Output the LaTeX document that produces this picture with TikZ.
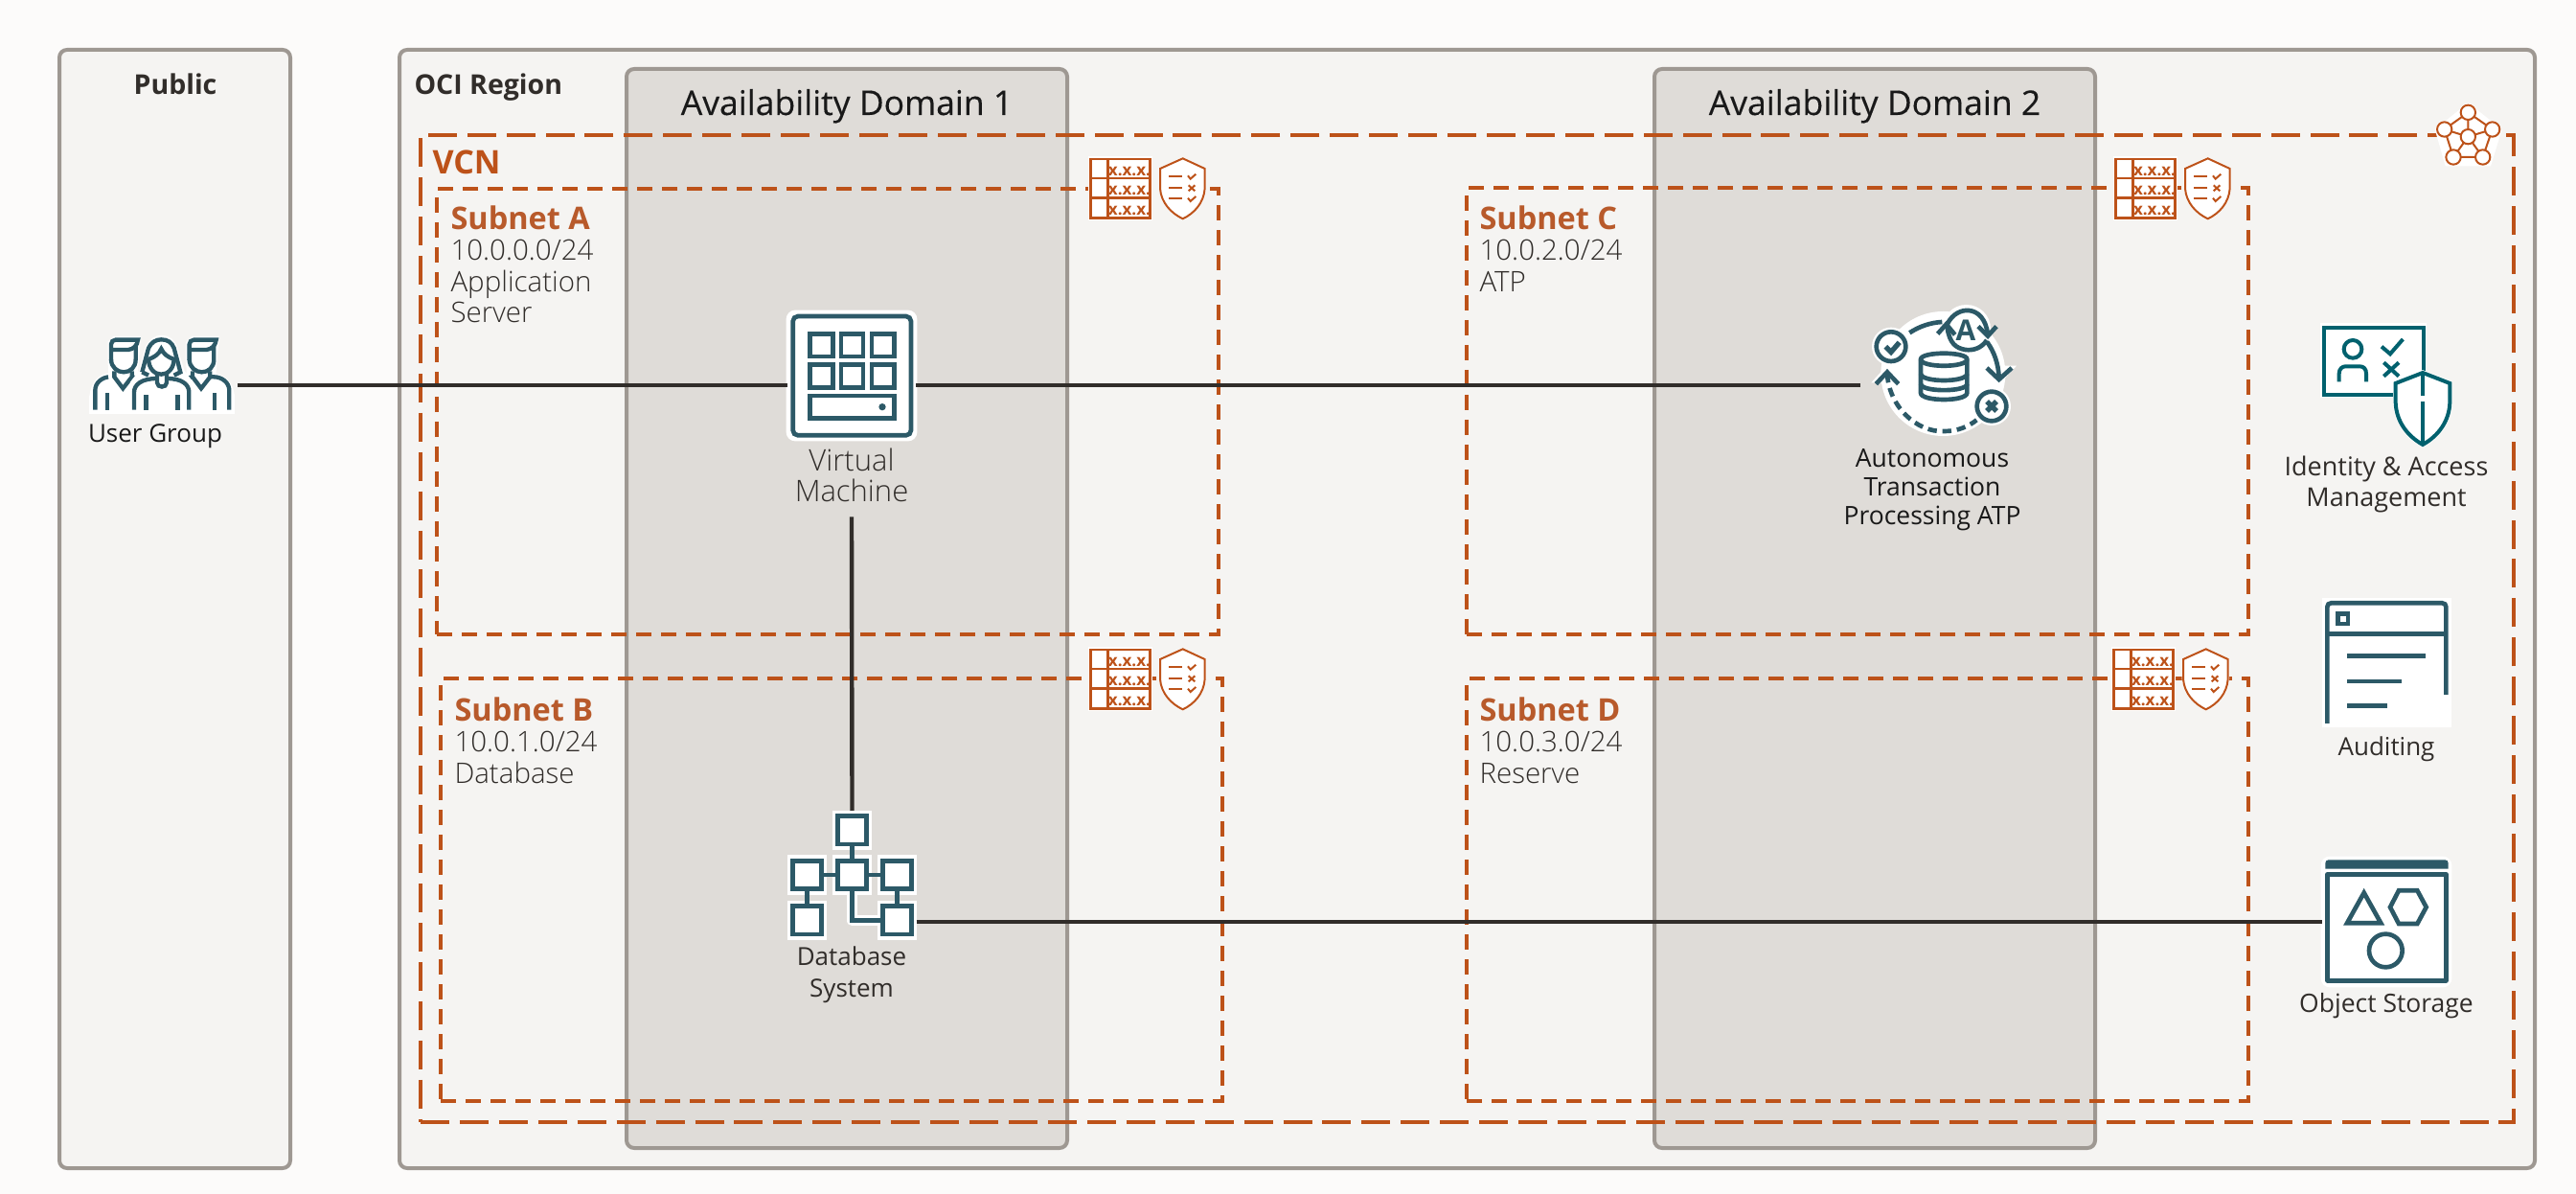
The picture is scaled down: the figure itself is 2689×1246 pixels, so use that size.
\documentclass[tikz,border=0pt]{standalone}
\usepackage{fontspec}
\setmainfont{Open Sans}
\newfontfamily\oslight{Open Sans Light}
\newfontfamily\osmed[FakeBold=0.25]{Open Sans}
\newcommand{\ossemi}{\bfseries}
\definecolor{pagebg}{HTML}{FCFBFA}
\definecolor{panelbg}{HTML}{F5F4F2}
\definecolor{adbg}{HTML}{DFDCD8}
\definecolor{edge}{HTML}{9E9892}
\definecolor{rust}{HTML}{BD5219}
\definecolor{rusttxt}{HTML}{B85A2B}
\definecolor{teal}{HTML}{2C5967}
\definecolor{iamteal}{HTML}{00616E}
\definecolor{ink}{HTML}{312D2A}
\newcommand{\fsz}[2]{\fontsize{\dimexpr#1pt*3/8\relax}{\dimexpr#2pt*3/8\relax}\selectfont}
\tikzset{
  x=0.375pt,y=-0.375pt,
  panel/.style={draw=edge,fill=panelbg,line width=1.5pt,rounded corners=3pt,anchor=north west,outer sep=0pt,inner sep=0pt},
  adbox/.style={panel,fill=adbg},
  vcnbox/.style={draw=rust,line width=1.5pt,anchor=north west,outer sep=0pt,inner sep=0pt,dash pattern=on 11.25pt off 4.1pt},
  subbox/.style={draw=rust,line width=1.5pt,anchor=north west,outer sep=0pt,inner sep=0pt,dash pattern=on 6pt off 3.75pt},
  title/.style={font=\fsz{28}{32},text=ink,inner sep=0pt,anchor=base},
  lab/.style={font=\oslight\fsz{29.5}{33},text=ink,inner sep=0pt,anchor=base west},
  sublab/.style={font=\ossemi\fsz{32.5}{33},text=rusttxt,inner sep=0pt,anchor=base west},
  wire/.style={draw=ink,line width=1.65pt},
  tl/.style={draw=teal,line width=#1*0.125pt,line join=miter},
  tl/.default=14,
  wh/.style={draw=white,line width=#1*0.125pt,line join=round},
  rl/.style={draw=rust,line width=#1*0.125pt},
  rl/.default=8,
  il/.style={draw=iamteal,line width=#1*0.125pt},
  il/.default=12,
  xxx/.style={font=\bfseries\fsz{17}{17},text=rust,inner sep=0pt}
}
\newcommand{\secicon}[3]{%
 \begin{scope}[shift={(#2,#3)},scale=1/3]
  \fill[white] (48,40) rectangle (250,240);
  \draw[rl] (56,48) rectangle (242,232);
  \draw[rl] (110,48) -- (110,232) (56,108) -- (242,108) (56,170) -- (242,170);
  \node[xxx] (#1x1) at (177,86) {x.x.x.};
  \node[xxx] (#1x2) at (177,148) {x.x.x.};
  \node[xxx] (#1x3) at (177,209) {x.x.x.};
  \draw[white,fill=white,line width=1pt] (344,46) -- (413,78) -- (413,140) .. controls (410,185) and (380,218) .. (344,235) .. controls (308,218) and (276,185) .. (273,140) -- (273,78) -- cycle;
  \draw[rl=6] (344,46) -- (413,78) -- (413,140) .. controls (410,185) and (380,218) .. (344,235) .. controls (308,218) and (276,185) .. (273,140) -- (273,78) -- cycle;
  \draw[rl=6] (300,103) -- (343,103) (300,139) -- (343,139) (300,171) -- (343,171);
  \draw[rl=6] (360,100) -- (368,110) -- (385,95) (360,170) -- (368,180) -- (385,165) (362,130) -- (382,148) (382,130) -- (362,148);
 \end{scope}}
\newcommand{\manshape}[1]{%
 \begin{scope}[shift={(#1,0)}]
  \draw[white,fill=white,line width=2.6pt] (168,175) -- (180,163) -- (250,163) -- (245,225) -- (240,278) -- (170,278) -- (168,225) -- cycle;
  \draw[tl=13] (168,228) -- (168,178) .. controls (168,170) and (174,164) .. (182,164) -- (252,164) .. controls (250,182) and (238,193) .. (222,195) -- (168,195);
  \draw[tl=13] (168,225) .. controls (168,250) and (188,265) .. (207,265) .. controls (228,265) and (245,250) .. (245,225) -- (245,182);
  \draw[tl=13] (178,262) -- (178,280) -- (205,316) -- (233,280) -- (233,262);
 \end{scope}}
\begin{document}
\begin{tikzpicture}
\useasboundingbox (0,0) rectangle (2689,1246);
\fill[pagebg] (0,0) rectangle (2689,1246);
% panels
\node[panel,minimum width=241*0.375pt,minimum height=1167*0.375pt] (public) at (62,52) {};
\node[panel,minimum width=2229*0.375pt,minimum height=1167*0.375pt] (region) at (417,52) {};
\node[adbox,minimum width=460*0.375pt,minimum height=1126*0.375pt] (ad1) at (654,72) {};
\node[adbox,minimum width=460*0.375pt,minimum height=1126*0.375pt] (ad2) at (1727,72) {};
\node[vcnbox,minimum width=2185*0.375pt,minimum height=1030*0.375pt] (vcn) at (439,141) {};
\node[subbox,minimum width=816*0.375pt,minimum height=465*0.375pt] (suba) at (456,197) {};
\node[subbox,minimum width=816*0.375pt,minimum height=441*0.375pt] (subb) at (460,708) {};
\node[subbox,minimum width=816*0.375pt,minimum height=466*0.375pt] (subc) at (1531,196) {};
\node[subbox,minimum width=816*0.375pt,minimum height=441*0.375pt] (subd) at (1531,708) {};
% titles
\node[title,font=\bfseries\fsz{28.5}{32}] (tpublic) at (183,98.5) {Public};
\node[title,anchor=base west,font=\bfseries\fsz{28.5}{32}] (tregion) at (432,98.5) {OCI Region};
\node[title,font=\osmed\fsz{35.5}{36},text=black!90] (tad1) at (884,120) {Availability Domain 1};
\node[title,font=\osmed\fsz{35.5}{36},text=black!90] (tad2) at (1957,120) {Availability Domain 2};
\node[sublab,font=\bfseries\fsz{34}{33},text=rust] (tvcn) at (451,182) {VCN};
\node[sublab] (ta1) at (470,239.5) {Subnet A};
\node[lab] (ta2) at (470,272) {10.0.0.0/24};
\node[lab] (ta3) at (470,305) {Application};
\node[lab] (ta4) at (470,337) {Server};
\node[sublab] (tb1) at (474,752.5) {Subnet B};
\node[lab] (tb2) at (474,785) {10.0.1.0/24};
\node[lab] (tb3) at (474,818) {Database};
\node[sublab] (tc1) at (1544,239.5) {Subnet C};
\node[lab] (tc2) at (1544,272) {10.0.2.0/24};
\node[lab] (tc3) at (1544,305) {ATP};
\node[sublab] (td1) at (1544,752.5) {Subnet D};
\node[lab] (td2) at (1544,785) {10.0.3.0/24};
\node[lab] (td3) at (1544,818) {Reserve};
% security icons
\secicon{sa}{1120}{150}
\secicon{sb}{1120}{662}
\secicon{sc}{2190}{150}
\secicon{sd}{2188}{662}
% VCN icon
\begin{scope}[shift={(2500,90)},scale=1/3]
 \fill[white] (229,52) -- (335,135) -- (300,250) -- (158,250) -- (125,135) -- cycle;
 \foreach \p in {(229,82),(155,135),(305,135),(183,222),(275,222)} \fill[white] \p circle[radius=28];
 \draw[rl=6] (229,82) -- (155,135) -- (183,222) -- (275,222) -- (305,135) -- cycle;
 \draw[rl=6] (229,158) -- (229,82) (229,158) -- (155,135) (229,158) -- (305,135) (229,158) -- (183,222) (229,158) -- (275,222);
 \foreach \p in {(229,82),(155,135),(305,135),(183,222),(275,222),(229,158)} \draw[rl=6,fill=white] \p circle[radius=23];
\end{scope}
% User group icon
\begin{scope}[shift={(60,300)},scale=1/3]
 \fill[white] (100,340) rectangle (555,395);
 \fill[white] (100,340) .. controls (105,295) and (130,270) .. (165,268) -- (490,268) .. controls (530,275) and (550,300) .. (555,340) -- cycle;
 \draw[tl=13] (118,383) -- (118,322) .. controls (118,298) and (140,280) .. (165,280) -- (178,280);
 \draw[tl=13] (155,383) -- (155,330);
 \manshape{0}
 \draw[tl=13] (233,280) -- (245,283);
 \manshape{245}
 \draw[tl=13] (478,280) -- (490,280) .. controls (515,280) and (538,298) .. (538,322) -- (538,383);
 \draw[tl=13] (493,383) -- (493,330);
 \draw[tl=13] (423,280) -- (410,283);
 \draw[white,fill=white,line width=2.6pt] (265,265) -- (285,190) .. controls (295,170) and (310,160) .. (325,160) .. controls (345,160) and (358,170) .. (365,190) -- (388,265) -- (415,300) -- (415,383) -- (238,383) -- (238,300) -- cycle;
 \draw[tl=13] (265,265) -- (285,190) .. controls (293,172) and (308,163) .. (325,163) .. controls (345,163) and (358,172) .. (365,190) -- (385,265) -- (365,275);
 \draw[tl=13] (265,265) -- (285,275);
 \draw[tl=13] (285,225) .. controls (305,218) and (318,208) .. (325,192) .. controls (332,208) and (345,218) .. (365,225);
 \draw[tl=13] (285,222) .. controls (285,255) and (305,272) .. (325,272) .. controls (345,272) and (365,255) .. (365,222);
 \draw[tl=13] (312,268) -- (312,298) .. controls (312,315) and (342,315) .. (342,298) -- (342,268);
 \draw[tl=13] (240,383) -- (240,328) .. controls (240,305) and (262,285) .. (312,285);
 \draw[tl=13] (342,285) .. controls (392,285) and (412,305) .. (412,328) -- (412,383);
 \draw[tl=13] (277,383) -- (277,335);
 \draw[tl=13] (376,383) -- (376,335);
\end{scope}
\node[minimum width=154*0.375pt,minimum height=60*0.375pt,inner sep=0pt,outer sep=0pt] (users) at (171,402) {};
\node[title,font=\fsz{26}{28},text=black!90] (tusers) at (162,461.5) {User Group};
% VM icon
\node[draw=white,fill=white,line width=1pt,rounded corners=3pt,minimum width=134*0.375pt,minimum height=134*0.375pt,inner sep=0pt,outer sep=0pt] (vm) at (889,392) {};
\begin{scope}[shift={(780,300)},scale=1/3]
 \draw[tl,rounded corners=2pt] (143,90) rectangle (513,463);
 \foreach \a/\b in {197/268,294/363,390/461} {
   \draw[tl] (\a,145) rectangle (\b,216);
   \draw[tl] (\a,242) rectangle (\b,313);
 }
 \draw[tl] (197,339) rectangle (461,409);
 \fill[teal] (423,374) circle[radius=11];
\end{scope}
\node[align=center,font=\oslight\fsz{31}{32},text=ink,inner xsep=0pt,inner ysep=6pt,outer sep=0pt] (vmlabel) at (889,495.5) {Virtual\\Machine};
% Database icon
\node[minimum width=134*0.375pt,minimum height=134*0.375pt,inner sep=0pt,outer sep=0pt] (db) at (889.5,913) {};
\begin{scope}[shift={(780,830)},scale=1/3]
 \foreach \cx/\cy in {329/109,188/249,329/249,469/249,188/391,469/391} {
   \fill[white] (\cx-62,\cy-62) rectangle (\cx+62,\cy+62);
 }
 \draw[wh=34] (329,300) -- (329,392) -- (417,392);
 \draw[tl] (329,160) -- (329,198) (240,249) -- (276,249) (381,249) -- (417,249) (188,300) -- (188,340) (469,300) -- (469,340);
 \draw[tl] (329,300) -- (329,392) -- (417,392);
 \foreach \cx/\cy in {329/109,188/249,329/249,469/249,188/391,469/391} {
   \draw[tl,fill=white] (\cx-45,\cy-44) rectangle (\cx+45,\cy+44);
 }
\end{scope}
\node[align=center,font=\fsz{26}{33},text=ink,inner sep=0pt] (dblabel) at (889,1017.5) {Database\\System};
% ATP icon
\node[minimum width=161*0.375pt,minimum height=139*0.375pt,inner sep=0pt,outer sep=0pt] (atp) at (2022.5,388) {};
\begin{scope}[shift={(1930,310)},scale=1/3]
 \fill[white] (295,240) circle[radius=195];
 \fill[white] (132,155) circle[radius=60];
 \fill[white] (447,342) circle[radius=60];
 \fill[white] (368,100) circle[radius=76];
 \fill[white] (70,268) -- (118,215) -- (170,270) -- cycle;
 \fill[white] (415,215) -- (525,215) -- (470,275) -- cycle;
 \draw[tl] (132,155) circle[radius=46];
 \draw[tl,line width=2pt] (115,155) -- (132,172) -- (158,142);
 \draw[tl] (447,342) circle[radius=46];
 \draw[tl,line width=2pt] (432,327) -- (462,357) (462,327) -- (432,357);
 \draw[tl] (190,112) .. controls (220,92) and (255,80) .. (292,78);
 \draw[tl] (432,140) .. controls (455,170) and (468,210) .. (470,250);
 \draw[tl] (85,272) -- (120,235) -- (155,272);
 \draw[tl] (432,222) -- (470,258) -- (510,222);
 \draw[tl,dash pattern=on 3.5pt off 2.2pt] (120,240) .. controls (125,340) and (210,425) .. (300,420) .. controls (340,420) and (375,405) .. (400,385);
 \draw[tl] (308,85) .. controls (325,50) and (355,40) .. (375,42) .. controls (405,44) and (430,70) .. (435,118);
 \draw[tl] (432,135) .. controls (415,160) and (390,168) .. (365,165) .. controls (335,160) and (315,145) .. (308,95);
 \draw[tl] (405,92) -- (435,122) -- (462,92);
 \draw[tl] (278,115) -- (305,85) -- (332,118);
 \node[font=\bfseries\fsz{30}{30},text=teal,inner sep=0pt] (atpA) at (366,103) {A};
 \draw[tl] (225,195) .. controls (225,170) and (370,170) .. (370,195) -- (370,300) .. controls (370,328) and (225,328) .. (225,300) -- cycle;
 \draw[tl] (225,195) .. controls (225,222) and (370,222) .. (370,195);
 \draw[tl] (225,240) .. controls (225,268) and (370,268) .. (370,240);
 \draw[tl] (225,272) .. controls (225,298) and (370,298) .. (370,272);
\end{scope}
\node[align=center,font=\fsz{26.5}{30},text=black!90,inner sep=0pt] (atplabel) at (2017,511) {Autonomous\\Transaction\\Processing ATP};
% IAM icon
\node[minimum width=136*0.375pt,minimum height=130*0.375pt,inner sep=0pt,outer sep=0pt] (iam) at (2491,393) {};
\begin{scope}[shift={(2380,320)},scale=1/3]
 \fill[white] (125,52) rectangle (460,285);
 \draw[il] (138,65) rectangle (450,275);
 \draw[il] (228,133) circle[radius=28];
 \draw[il] (185,235) -- (185,210) .. controls (185,195) and (195,187) .. (205,187) -- (250,187) .. controls (262,187) and (270,195) .. (270,210) -- (270,235);
 \draw[il] (318,125) -- (345,148) -- (385,102) (325,175) -- (372,218) (372,175) -- (325,218);
 \draw[white,fill=white,line width=2pt] (447,207) -- (532,240) -- (532,300) .. controls (530,360) and (495,405) .. (447,432) .. controls (399,405) and (364,360) .. (362,300) -- (362,240) -- cycle;
 \draw[il] (447,207) -- (532,240) -- (532,300) .. controls (530,360) and (495,405) .. (447,432) .. controls (399,405) and (364,360) .. (362,300) -- (362,240) -- cycle;
 \draw[il] (447,207) -- (447,280) (447,297) -- (447,428);
\end{scope}
\node[align=center,font=\fsz{27}{32},text=ink,inner sep=0pt] (iamlabel) at (2491,505) {Identity \& Access\\Management};
% Audit icon
\node[draw=white,fill=white,line width=0pt,minimum width=134*0.375pt,minimum height=134*0.375pt,inner sep=0pt,outer sep=0pt] (audit) at (2491,692) {};
\begin{scope}[shift={(2380,610)},scale=1/3]
 \draw[tl] (148,435) -- (148,70) .. controls (148,63) and (153,58) .. (160,58) -- (508,58) .. controls (515,58) and (520,63) .. (520,70) -- (520,345);
 \draw[tl] (148,155) -- (520,155);
 \draw[tl] (181,91) rectangle (213,123);
 \draw[tl] (210,224) -- (455,224) (210,303) -- (380,303) (210,380) -- (335,380);
\end{scope}
\node[title,font=\fsz{26}{32}] (auditlabel) at (2491,789) {Auditing};
% Object storage icon
\node[draw=white,fill=white,line width=1pt,rounded corners=3pt,minimum width=134*0.375pt,minimum height=134*0.375pt,inner sep=0pt,outer sep=0pt] (storage) at (2491,962) {};
\begin{scope}[shift={(2380,880)},scale=1/3]
 \fill[teal] (142,80) -- (142,62) .. controls (142,56) and (146,52) .. (152,52) -- (517,52) .. controls (523,52) and (527,56) .. (527,62) -- (527,80) -- cycle;
 \draw[tl,line join=round] (149,97) -- (520,97) -- (520,430) -- (149,430) -- cycle;
 \draw[tl=14] (263,155) -- (316,250) -- (210,250) -- cycle;
 \draw[tl=14] (345,200) -- (372,148) -- (430,148) -- (458,200) -- (430,252) -- (372,252) -- cycle;
 \draw[tl=14] (331,336) circle[radius=52];
\end{scope}
\node[title,font=\fsz{26.5}{32}] (storagelabel) at (2491,1057) {Object Storage};
% connectors
\draw[wire] (users.east) -- (vm.west |- users.east);
\draw[wire] (vm.east |- users.east) -- (atp.west |- users.east);
\draw[wire] (vmlabel.south) -- (db.north);
\draw[wire] (db.east |- storage.west) -- (storage.west);
\end{tikzpicture}
\end{document}
